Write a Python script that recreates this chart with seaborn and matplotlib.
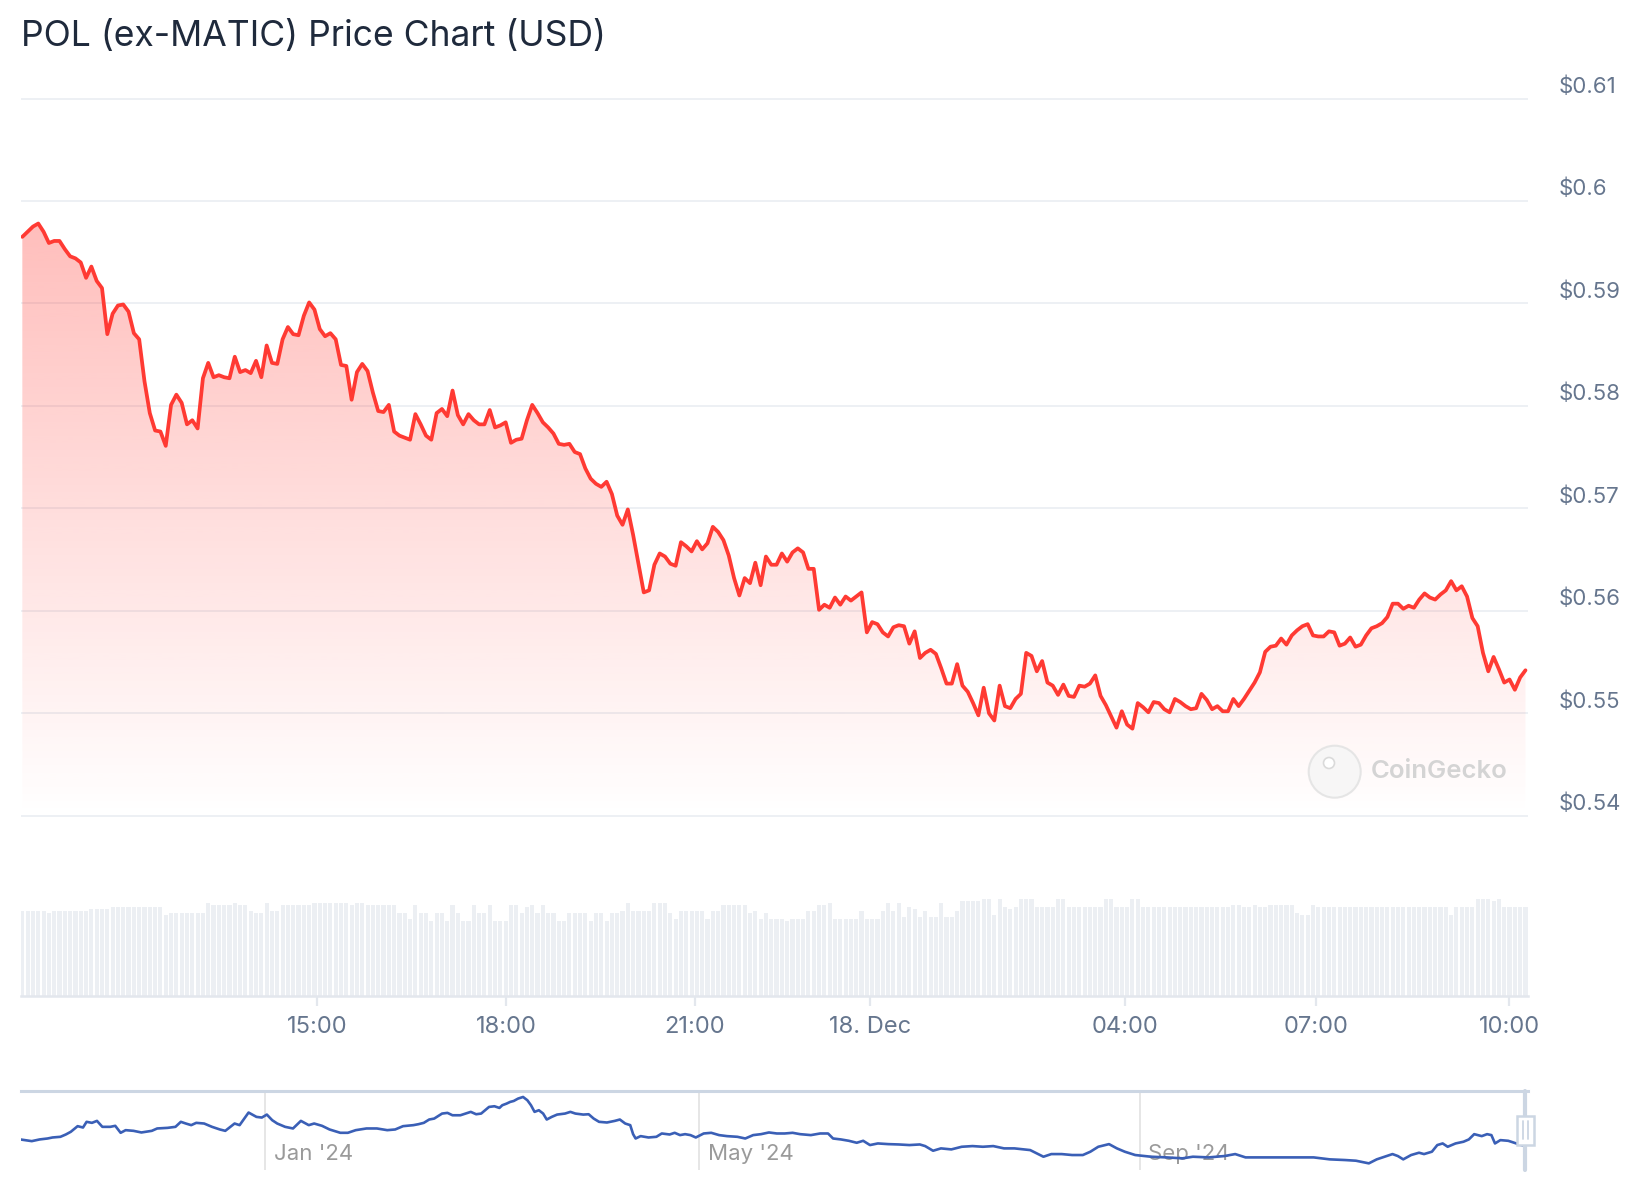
import numpy as np
import pandas as pd
import matplotlib
matplotlib.use("Agg")
import matplotlib.pyplot as plt
import matplotlib.transforms as mtransforms
from matplotlib.patches import Ellipse, Rectangle
from matplotlib.lines import Line2D
import seaborn as sns

# colours
line_red = "#ff3a33"
vol_grey = "#eceff3"
grid_col = "#edf0f4"
label_col = "#66768e"
nav_blue = "#3a5fb6"
nav_edge = "#ccd6e3"

# --- 24h price, one point per ~5 min ---
price = [
    0.5965, 0.5970, 0.5975, 0.5978, 0.5970, 0.5959, 0.5961, 0.5961, 0.5953, 0.5946,
    0.5944, 0.5940, 0.5925, 0.5936, 0.5922, 0.5915, 0.5870, 0.5890, 0.5898, 0.5899,
    0.5892, 0.5871, 0.5865, 0.5824, 0.5793, 0.5776, 0.5775, 0.5761, 0.5801, 0.5811,
    0.5803, 0.5782, 0.5786, 0.5778, 0.5827, 0.5842, 0.5828, 0.5830, 0.5828, 0.5827,
    0.5848, 0.5833, 0.5835, 0.5832, 0.5844, 0.5828, 0.5859, 0.5842, 0.5841, 0.5865,
    0.5877, 0.5870, 0.5869, 0.5888, 0.5901, 0.5894, 0.5875, 0.5868, 0.5871, 0.5865,
    0.5840, 0.5839, 0.5806, 0.5833, 0.5841, 0.5834, 0.5813, 0.5795, 0.5794, 0.5801,
    0.5775, 0.5771, 0.5769,
    0.5767, 0.5792, 0.5782, 0.5771, 0.5767, 0.5793, 0.5797, 0.5790, 0.5815, 0.5791,
    0.5782, 0.5792, 0.5786, 0.5782, 0.5782, 0.5796, 0.5779, 0.5781, 0.5784, 0.5764,
    0.5767, 0.5768, 0.5786, 0.5801, 0.5793, 0.5784, 0.5779, 0.5773, 0.5763, 0.5762,
    0.5763, 0.5755, 0.5753, 0.5739, 0.5729, 0.5724, 0.5721, 0.5726, 0.5714, 0.5693,
    0.5684, 0.5699, 0.5674, 0.5646, 0.5618, 0.5620, 0.5645, 0.5656, 0.5653, 0.5646,
    0.5644, 0.5667, 0.5663, 0.5658, 0.5668, 0.5660, 0.5666, 0.5682, 0.5677, 0.5669,
    0.5654, 0.5632, 0.5615, 0.5632, 0.5627, 0.5647, 0.5625, 0.5653, 0.5645, 0.5645,
    0.5656, 0.5648, 0.5657, 0.5661,
    0.5657, 0.5641, 0.5641, 0.5601, 0.5606, 0.5603, 0.5613, 0.5606, 0.5614, 0.5610,
    0.5614, 0.5618, 0.5579, 0.5589, 0.5587, 0.5579, 0.5575, 0.5584, 0.5586, 0.5585,
    0.5568, 0.5580, 0.5554, 0.5559, 0.5562, 0.5558, 0.5544, 0.5529, 0.5529, 0.5548,
    0.5527, 0.5521, 0.5510, 0.5498, 0.5525, 0.5500, 0.5493, 0.5527, 0.5507, 0.5505,
    0.5514, 0.5519, 0.5559, 0.5556, 0.5541, 0.5551, 0.5530, 0.5527, 0.5518, 0.5528,
    0.5517, 0.5516, 0.5527, 0.5526, 0.5529, 0.5537, 0.5517, 0.5508, 0.5497, 0.5486,
    0.5502, 0.5489, 0.5485, 0.5510, 0.5506, 0.5501, 0.5511, 0.5510, 0.5504,
    0.5501, 0.5514, 0.5511, 0.5507, 0.5504, 0.5505, 0.5519, 0.5513, 0.5504, 0.5507,
    0.5502, 0.5502, 0.5514, 0.5507, 0.5514, 0.5522, 0.5530, 0.5540, 0.5560, 0.5565,
    0.5566, 0.5573, 0.5567, 0.5576, 0.5581, 0.5585, 0.5587, 0.5576, 0.5575, 0.5575,
    0.5580, 0.5579, 0.5566, 0.5568, 0.5574, 0.5565, 0.5567, 0.5576, 0.5583, 0.5585,
    0.5588, 0.5594, 0.5607, 0.5607, 0.5602, 0.5605, 0.5603, 0.5611, 0.5617, 0.5613,
    0.5611, 0.5616, 0.5620, 0.5629, 0.5620, 0.5624, 0.5614, 0.5593, 0.5585, 0.5559,
    0.5541, 0.5555, 0.5543, 0.5530, 0.5533, 0.5523, 0.5535, 0.5542,
]

# relative volume per point (no scale shown on the chart)
volume = [
    254, 254, 254, 254, 254, 248, 254, 254, 254, 254,
    254, 254, 254, 260, 260, 260, 260, 266, 266, 266,
    266, 266, 266, 266, 266, 266, 266, 242, 248, 248,
    248, 248, 248, 248, 248, 278, 272, 272, 272, 272,
    278, 272, 272, 254, 248, 248, 278, 254, 254, 272,
    272, 272, 272, 272, 272, 278, 278, 278, 278, 278,
    278, 278, 272, 278, 278, 272, 272, 272, 272, 272,
    272, 248, 248, 230, 272, 248, 248, 224, 248, 248,
    224, 272, 248, 224, 224, 272, 248, 248, 272, 224,
    224, 224, 272, 272, 248, 266, 272, 248, 272, 248,
    248, 224, 224, 248, 248, 248, 248, 224, 248, 248,
    224, 248, 248, 254, 278, 254, 254, 254, 254, 278,
    278, 278, 248, 230, 254, 254, 254, 254, 254, 230,
    254, 254, 272, 272, 272, 272, 272, 248, 254, 230,
    248, 230, 230, 230, 224, 230, 230, 230, 254, 254,
    272, 272, 278, 230, 230, 230, 230, 230, 254, 230,
    230, 230, 254, 278, 254, 278, 236, 266, 260, 236,
    254, 236, 236, 278, 236, 236, 254, 284, 284, 284,
    284, 290, 290, 242, 290, 266, 260, 266, 290, 290,
    290, 266, 266, 266, 266, 290, 290, 266, 266, 266,
    266, 266, 266, 266, 290, 290, 266, 266, 266, 290,
    290, 266, 266, 266, 266, 266, 266, 266, 266, 266,
    266, 266, 266, 266, 266, 266, 266, 266, 272, 272,
    266, 266, 272, 266, 266, 272, 272, 272, 272, 272,
    248, 242, 242, 272, 266, 266, 266, 266, 266, 266,
    266, 266, 266, 266, 266, 266, 266, 266, 266, 266,
    266, 266, 266, 266, 266, 266, 266, 266, 266, 242,
    266, 266, 266, 266, 290, 290, 290, 284, 290, 266,
    266, 266, 266, 266,
]

# ordinal axis: where the time labels fall (point index)
tick_pos = [55.5, 91.1, 126.6, 159.6, 207.6, 243.5, 279.9]
tick_labels = ["15:00", "18:00", "21:00", "18. Dec", "04:00", "07:00", "10:00"]
price_ticks = [0.54, 0.55, 0.56, 0.57, 0.58, 0.59, 0.60, 0.61]

# navigator: days since 2024-01-01 and price
nav_day = [
    -68.4, -65.2, -63.0, -60.8, -59.4, -57.2, -55.7, -54.3, -52.4, -50.9,
    -49.9, -48.4, -47.0, -45.5, -43.3, -41.9, -40.4, -39.0, -36.8, -34.6,
    -31.7, -30.2, -27.3, -25.1, -23.6, -22.2, -20.7, -19.3, -17.1, -14.9,
    -12.7, -11.2, -9.8, -8.6, -7.2, -4.7, -2.5, -1.0, 0.4, 1.9,
    3.3, 5.5, 7.7, 9.9, 12.1, 13.6, 15.8, 17.9, 20.9, 23.0,
    25.2, 28.2, 31.1, 34.0, 36.2, 38.4, 41.3, 42.7, 44.2, 45.7,
    47.1, 49.3, 50.8, 52.2, 54.4, 55.9, 57.3, 58.8, 60.2, 62.4,
    63.9, 65.3, 66.1, 67.3, 68.3, 69.3, 70.5, 71.9, 73.1, 74.1,
    75.1, 76.3, 77.5, 78.5, 79.9, 81.4, 83.6, 85.1, 86.5, 88.7,
    90.2, 91.6, 93.1, 95.3, 97.5, 98.9, 100.4, 101.8, 102.6, 103.3,
    104.7, 106.9, 109.1, 110.6, 112.8, 114.2, 115.7, 117.1, 118.6, 120.1,
    122.3, 124.4, 126.6, 128.8, 131.7, 133.9, 136.1, 138.3, 140.5, 142.7,
    144.9, 147.1, 149.2, 152.2, 154.8, 157.0, 158.4, 160.6, 162.8, 165.0,
    166.8, 168.7, 170.9, 173.8, 176.7, 179.7, 182.6, 184.1, 186.3, 188.5,
    191.4, 194.3, 197.3, 200.2, 203.1, 206.1, 209.0, 213.4, 217.1, 219.3,
    222.2, 225.1, 228.1, 230.2, 232.4, 235.4, 237.6, 239.8, 242.7, 247.1,
    251.5, 255.9, 258.8, 263.2, 267.6, 270.6, 273.5, 279.4, 286.7, 292.5,
    297.0, 301.3, 304.3, 307.9, 310.1, 312.3, 314.5, 316.0, 317.5, 319.7,
    321.9, 323.3, 325.5, 327.0, 328.5, 329.9, 332.1, 334.3, 335.8, 337.3,
    339.4, 340.9, 342.1, 343.1, 344.6, 346.8, 348.5, 351.0,
]
nav_price = [
    0.653, 0.628, 0.653, 0.667, 0.682, 0.692, 0.726, 0.766, 0.849, 0.829,
    0.913, 0.898, 0.927, 0.839, 0.839, 0.854, 0.751, 0.790, 0.780, 0.756,
    0.780, 0.815, 0.824, 0.839, 0.913, 0.888, 0.864, 0.898, 0.888, 0.839,
    0.800, 0.780, 0.839, 0.888, 0.864, 1.050, 0.986, 0.976, 1.020, 0.937,
    0.888, 0.839, 0.815, 0.927, 0.864, 0.888, 0.854, 0.800, 0.751, 0.751,
    0.790, 0.815, 0.815, 0.790, 0.800, 0.849, 0.864, 0.878, 0.898, 0.947,
    0.961, 1.035, 1.045, 1.010, 1.010, 1.035, 1.060, 1.025, 1.035, 1.133,
    1.143, 1.118, 1.158, 1.182, 1.207, 1.221, 1.256, 1.280, 1.231, 1.158,
    1.060, 1.084, 1.035, 0.947, 0.986, 1.020, 1.035, 1.060, 1.035, 1.020,
    1.025, 0.961, 0.913, 0.903, 0.927, 0.947, 0.888, 0.864, 0.731, 0.667,
    0.702, 0.682, 0.692, 0.741, 0.726, 0.751, 0.717, 0.731, 0.717, 0.682,
    0.741, 0.751, 0.717, 0.702, 0.692, 0.667, 0.717, 0.731, 0.756, 0.741,
    0.741, 0.751, 0.731, 0.717, 0.741, 0.741, 0.667, 0.653, 0.633, 0.604,
    0.633, 0.570, 0.594, 0.584, 0.579, 0.570, 0.579, 0.555, 0.486, 0.521,
    0.506, 0.545, 0.555, 0.545, 0.555, 0.521, 0.521, 0.496, 0.398, 0.437,
    0.437, 0.423, 0.423, 0.472, 0.545, 0.584, 0.521, 0.472, 0.423, 0.398,
    0.388, 0.374, 0.398, 0.388, 0.408, 0.437, 0.388, 0.388, 0.388, 0.388,
    0.359, 0.349, 0.339, 0.300, 0.359, 0.398, 0.437, 0.408, 0.359, 0.423,
    0.457, 0.437, 0.472, 0.570, 0.594, 0.545, 0.594, 0.619, 0.653, 0.731,
    0.702, 0.731, 0.717, 0.594, 0.643, 0.633, 0.604, 0.560,
]
nav_ticks = ["2024-01-01", "2024-05-01", "2024-09-01"]
nav_tick_labels = ["Jan '24", "May '24", "Sep '24"]

sns.set_theme(style="white")
plt.rcParams["font.family"] = ["Inter", "DejaVu Sans"]

W, H = 1644, 1200
fig = plt.figure(figsize=(W / 100, H / 100), dpi=100)


def add_px_axes(left, top, right, bottom):
    # axes placed by pixel edges of the 1644x1200 canvas
    return fig.add_axes([left / W, 1 - bottom / H, (right - left) / W, (bottom - top) / H])


df = pd.DataFrame({"idx": np.arange(len(price)), "price": price, "volume": volume})
x_lo, x_hi = -0.25, len(price) - 0.6

# ---------- price panel ----------
ax = add_px_axes(21, 97.5, 1527.6, 816.8)
sns.lineplot(data=df, x="idx", y="price", ax=ax, color=line_red, linewidth=2.7,
             zorder=4)
poly = ax.fill_between(df["idx"], df["price"], 0.54, color="none", linewidth=0)
alpha = np.linspace(0.40, 0.0, 256)
grad = np.zeros((256, 1, 4))
grad[:, 0, 0] = 1.0
grad[:, 0, 1] = 58 / 255
grad[:, 0, 2] = 51 / 255
grad[:, 0, 3] = alpha
img = ax.imshow(grad, extent=[x_lo, x_hi, 0.54, 0.61], aspect="auto",
                origin="upper", zorder=2, interpolation="bilinear")
img.set_clip_path(poly.get_paths()[0], transform=ax.transData)

ax.set_xlim(x_lo, x_hi)
ax.set_ylim(0.5399, 0.6101)
ax.set_yticks(price_ticks, ["${:g}".format(v) for v in price_ticks])
ax.yaxis.tick_right()
ax.tick_params(axis="y", length=0, pad=22.5, labelsize=16, labelcolor=label_col)
ax.set_xticks([])
ax.grid(axis="y", color=grid_col, linewidth=1.4)
ax.set_xlabel("")
ax.set_ylabel("")
sns.despine(ax=ax, left=True, bottom=True, right=True, top=True)
lift = mtransforms.ScaledTranslation(0, 10 / 72, fig.dpi_scale_trans)
for lab in ax.get_yticklabels():
    lab.set_transform(lab.get_transform() + lift)

# ---------- volume panel ----------
axv = add_px_axes(21, 899, 1527.6, 996)
sns.barplot(data=df, x="idx", y="volume", native_scale=True, color=vol_grey,
            saturation=1, width=0.78, errorbar=None, linewidth=0, ax=axv)
axv.set_xlim(x_lo, x_hi)
axv.set_ylim(0, 290)
axv.set_yticks([])
axv.set_xticks(tick_pos, tick_labels)
axv.tick_params(axis="x", bottom=True, length=7, width=1.6, color="#e3e7ed",
                pad=7.5, labelsize=17, labelcolor=label_col)
axv.set_xlabel("")
axv.set_ylabel("")
sns.despine(ax=axv, left=True, right=True, top=True)
axv.spines["bottom"].set_color("#e3e7ed")
axv.spines["bottom"].set_linewidth(1.8)

# ---------- navigator ----------
axn = add_px_axes(21, 1091, 1527.6, 1170)
day0 = pd.Timestamp("2024-01-01")
nav_dates = day0 + pd.to_timedelta(nav_day, unit="D")
sns.lineplot(x=nav_dates, y=nav_price, ax=axn, color=nav_blue, linewidth=1.9)
axn.set_xlim(day0 + pd.Timedelta(days=-68.2), day0 + pd.Timedelta(days=352.2))
axn.set_ylim(0.202, 1.368)
axn.set_yticks([])
axn.set_xticks(pd.to_datetime(nav_ticks), [""] * len(nav_ticks))
axn.grid(axis="x", color="#e4e4e4", linewidth=1.3)
axn.tick_params(axis="x", length=0)
# month labels sit inside the navigator, just right of each grid line
shift = mtransforms.ScaledTranslation(8.5 / 100, 0, fig.dpi_scale_trans)
blend = mtransforms.blended_transform_factory(axn.transData, axn.transAxes)
for d, lab in zip(nav_ticks, nav_tick_labels):
    axn.text(pd.Timestamp(d), 0.2, lab, transform=blend + shift, ha="left",
             va="center", fontsize=16, color="#9a9a9a", zorder=1)
axn.set_xlabel("")
axn.set_ylabel("")
sns.despine(ax=axn, left=True, right=True, bottom=True, top=False)
axn.spines["top"].set_color(nav_edge)
axn.spines["top"].set_linewidth(2.2)

# selected range outline and handle (the last day)
sel = day0 + pd.Timedelta(days=351.4)
axn.axvline(sel, color=nav_edge, linewidth=3, clip_on=False)
fig.add_artist(Rectangle((1516.5 / W, 1 - 1145 / H), 17 / W, 29 / H,
                         transform=fig.transFigure, facecolor="white",
                         edgecolor=nav_edge, linewidth=1.8, zorder=5))
for hx in (1522.5, 1527.5):
    fig.add_artist(Line2D([hx / W, hx / W], [1 - 1139 / H, 1 - 1121 / H],
                          transform=fig.transFigure, color=nav_edge,
                          linewidth=1.3, zorder=6))

# ---------- watermark ----------
fig.add_artist(Ellipse((1334.7 / W, 1 - 771.7 / H), 52 / W, 52 / H,
                       transform=fig.transFigure, facecolor="#f6f6f6",
                       edgecolor="#e2e2e2", linewidth=1.5, alpha=0.85, zorder=5))
fig.add_artist(Ellipse((1329 / W, 1 - 763 / H), 11 / W, 11 / H,
                       transform=fig.transFigure, facecolor="white",
                       edgecolor="#dadada", linewidth=1.2, zorder=6))
fig.text(1371 / W, 1 - 771 / H, "CoinGecko", fontsize=18.5, fontweight="semibold",
         color="#d4d4d4", va="center", ha="left")

# ---------- title ----------
fig.text(21 / W, 1 - 36.5 / H, "POL (ex-MATIC) Price Chart (USD)", fontsize=25.6,
         color="#1f2a3c", va="center", ha="left")

fig.savefig("out.png", dpi=100)
